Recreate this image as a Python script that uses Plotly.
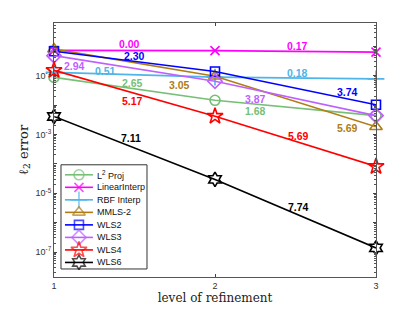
import numpy as np
import plotly.graph_objects as go

levels = [1, 2, 3]
series_names = ["L<sup>2</sup> Proj", "LinearInterp", "RBF Interp", "MMLS-2", "WLS2", "WLS3", "WLS4", "WLS6"]
l2proj = [10**-1.06, 10**-1.84, 10**-2.36]
linear_interp = [10**-0.14, 10**-0.15, 10**-0.20]
rbf_interp = [10**-0.89, 10**-1.05, 10**-1.11]
mmls2 = [10**-0.10, 10**-1.02, 10**-2.74]
wls2 = [10**-0.17, 10**-0.86, 10**-1.99]
wls3 = [10**-0.32, 10**-1.19, 10**-2.36]
wls4 = [10**-0.82, 10**-2.38, 10**-4.09]
wls6 = [10**-2.39, 10**-4.53, 10**-6.86]
all_series = [l2proj, linear_interp, rbf_interp, mmls2, wls2, wls3, wls4, wls6]

colors = ["#77BF77", "#FF00FF", "#4DB5E8", "#B07D14", "#0000FF", "#BF5FFF", "#FF0000", "#000000"]
symbols = ["circle-open", "x-thin-open", "cross-thin-open", "triangle-up-open", "square-open",
           "diamond-open", "star-open", "hexagram-open"]
sizes = [10, 9, 12, 11, 9, 11, 12, 11]

# rate annotations: (text, x, log10 y, color index)
rate_text = ["0.00", "2.30", "2.94", "0.51", "2.65", "3.05", "5.17", "7.11",
             "0.17", "0.18", "3.74", "3.87", "1.68", "5.69", "5.69", "7.74"]
rate_x = [1.47, 1.50, 1.13, 1.32, 1.49, 1.78, 1.49, 1.48,
          2.51, 2.51, 2.82, 2.25, 2.25, 2.82, 2.52, 2.52]
rate_logy = [0.06, -0.34, -0.66, -0.85, -1.25, -1.31, -1.88, -3.12,
             0.02, -0.91, -1.57, -1.79, -2.22, -2.78, -3.05, -5.46]
rate_color = [1, 4, 5, 2, 0, 3, 6, 7, 1, 2, 4, 5, 0, 3, 6, 7]

major_y = [1e-7, 1e-6, 1e-5, 1e-4, 1e-3, 1e-2, 1e-1, 1e0]
major_y_text = ["10<sup>-7</sup>", "", "10<sup>-5</sup>", "", "10<sup>-3</sup>", "", "10<sup>-1</sup>", ""]

fig = go.Figure()
for name, ys, c, s, sz in zip(series_names, all_series, colors, symbols, sizes):
    fig.add_trace(go.Scatter(
        x=levels, y=ys, name=name, mode="lines+markers", showlegend=False, cliponaxis=False,
        line=dict(color=c, width=1.6),
        marker=dict(symbol=s, size=sz, color=c, line=dict(color=c, width=1.6)),
    ))

for t, x, ly, ci in zip(rate_text, rate_x, rate_logy, rate_color):
    fig.add_annotation(x=x, y=ly, text="<b>%s</b>" % t, showarrow=False,
                       font=dict(family="Liberation Sans, Arial", size=10.5, color=colors[ci]))

# custom compact legend (MATLAB-style), positioned in plot-area fractions
leg_x0, leg_x1, leg_y0, leg_y1 = 0.0217, 0.2888, 0.0316, 0.4418
seg_x0, seg_x1, mark_x, text_x = 0.034, 0.121, 0.0775, 0.127
row_y0, row_dy = 0.4024, 0.0493
fig.add_shape(type="rect", xref="paper", yref="paper", x0=leg_x0, x1=leg_x1, y0=leg_y0, y1=leg_y1,
              line=dict(color="#333333", width=1), fillcolor="white", layer="below")
for i, (name, c, s, sz) in enumerate(zip(series_names, colors, symbols, sizes)):
    yy = row_y0 - i * row_dy
    fig.add_trace(go.Scatter(
        x=[seg_x0, mark_x, seg_x1], y=[yy, yy, yy], xaxis="x2", yaxis="y2", mode="lines+markers",
        showlegend=False, hoverinfo="skip", cliponaxis=False,
        line=dict(color=c, width=1.6),
        marker=dict(symbol=s, size=[0, sz, 0], color=c, line=dict(color=c, width=1.6)),
    ))
    fig.add_annotation(xref="paper", yref="paper", x=text_x, y=yy, text=name, showarrow=False,
                       xanchor="left", yanchor="middle",
                       font=dict(family="Liberation Sans, Arial", size=9, color="#111111"))

minor_vals = [m * 10.0**e for e in range(-8, 1) for m in range(2, 10)]

fig.update_layout(
    width=415, height=312,
    margin=dict(l=46, r=47, t=15, b=43),
    plot_bgcolor="white", paper_bgcolor="white",
    showlegend=False,
    xaxis=dict(
        range=[1, 3], tickvals=[1, 2, 3], ticks="inside", ticklen=3,
        showline=True, linecolor="#555555", linewidth=1, mirror="ticks",
        showgrid=False, zeroline=False,
        tickfont=dict(family="Liberation Sans, Arial", size=9, color="#333333"),
        title=dict(text="level of refinement", standoff=2,
                   font=dict(family="DejaVu Serif, Liberation Serif, serif", size=12, color="#222222")),
    ),
    yaxis=dict(
        type="log", range=[-7.85, 0.79],
        tickvals=major_y, ticktext=major_y_text, ticks="inside", ticklen=3,
        showline=True, linecolor="#555555", linewidth=1, mirror="ticks",
        showgrid=False, zeroline=False,
        minor=dict(tickvals=minor_vals, ticks="inside", ticklen=2, tickcolor="#555555", showgrid=False),
        tickfont=dict(family="Liberation Sans, Arial", size=9, color="#333333"),
        title=dict(text="ℓ<sub>2</sub> error", standoff=4,
                   font=dict(family="DejaVu Serif, Liberation Serif, serif", size=13, color="#222222")),
    ),
    xaxis2=dict(overlaying="x", range=[0, 1], visible=False, fixedrange=True),
    yaxis2=dict(overlaying="y", range=[0, 1], visible=False, fixedrange=True),
)

fig.write_html("out.html")
